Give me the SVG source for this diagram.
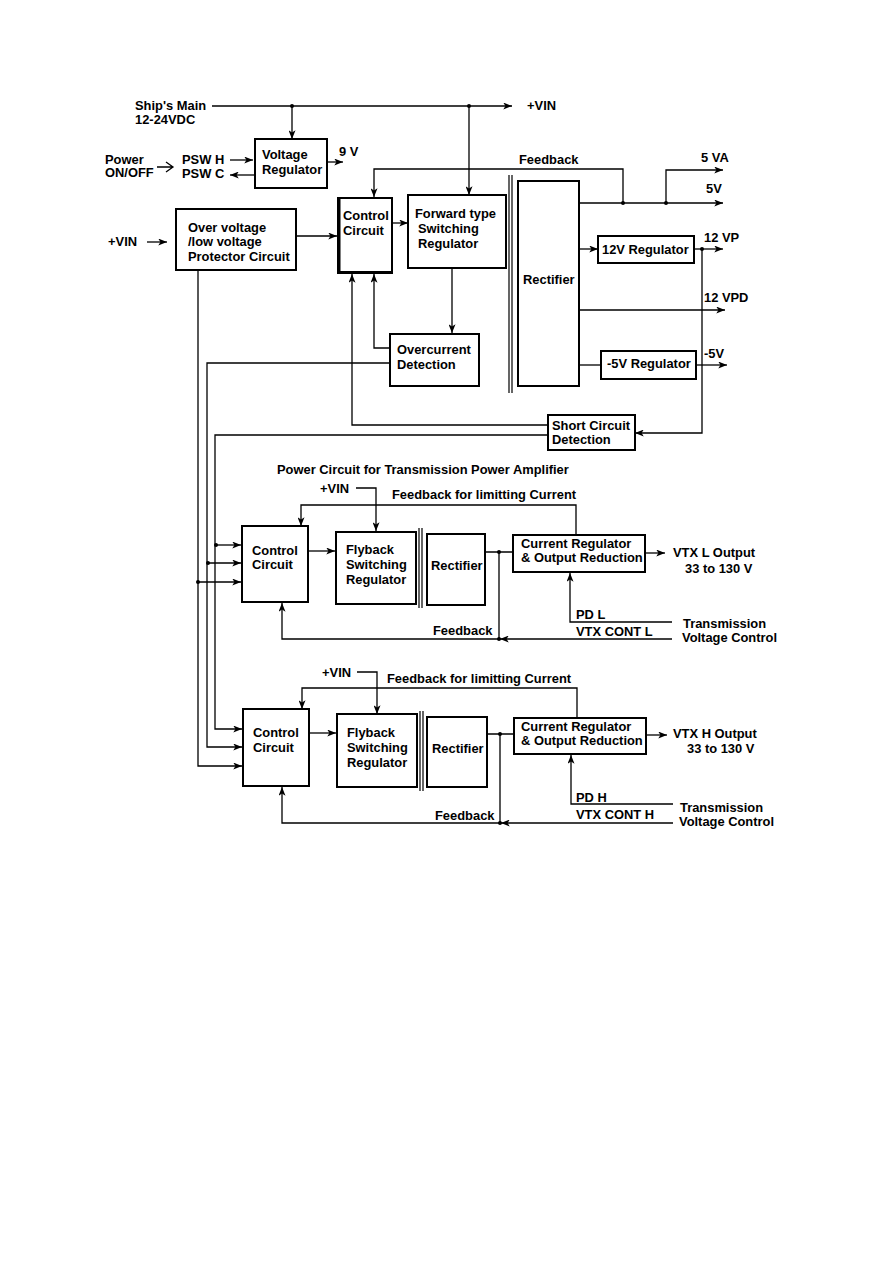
<svg xmlns="http://www.w3.org/2000/svg" width="893" height="1263" viewBox="0 0 893 1263">
<defs>
<marker id="arr" viewBox="0 0 10 8" refX="10" refY="4" markerWidth="10" markerHeight="7" markerUnits="userSpaceOnUse" orient="auto">
<path d="M0,0 L10,4 L0,8 L2.5,4 z" fill="#000"/>
</marker>
<style>
text{font-family:"Liberation Sans",Arial,Helvetica,sans-serif;font-weight:bold;font-size:12.9px;fill:#000}
.box{fill:#fff;stroke:#000;stroke-width:2}
.ln{fill:none;stroke:#000;stroke-width:1.3}
.a{marker-end:url(#arr)}
.dot{fill:#000}
.xf{fill:none;stroke:#000;stroke-width:1.2}
</style>
</defs>
<rect width="893" height="1263" fill="#fff"/>

<g id="connectors">
<path class="ln a" d="M212,106 H512"/>
<path class="ln a" d="M292,106 V139"/>
<path class="ln a" d="M469,106 V195"/>
<path class="ln a" d="M327,162 H343"/>
<path class="ln a" d="M230,160 H253"/>
<path class="ln a" d="M254,175 H230"/>
<path class="ln" d="M157,167 H173 M166,162 L173,167 L166,172"/>
<path class="ln a" d="M147,242 H167"/>
<path class="ln a" d="M296,236 H337"/>
<path class="ln a" d="M623,203 V169 H374 V197"/>
<path class="ln a" d="M579,203 H723"/>
<path class="ln a" d="M666,203 V170 H723"/>
<path class="ln a" d="M392,223 H408"/>
<path class="ln a" d="M579,249 H598"/>
<path class="ln a" d="M694,249 H723"/>
<path class="ln a" d="M702,249 V433 H635"/>
<path class="ln a" d="M579,310 H725"/>
<path class="ln" d="M579,365 H601"/>
<path class="ln a" d="M696,365 H727"/>
<path class="ln a" d="M452,268 V333"/>
<path class="ln a" d="M390,348 H374 V274"/>
<path class="ln a" d="M548,425 H352 V274"/>
<path class="ln a" d="M390,363 H207 V747 H242"/>
<path class="ln a" d="M548,435 H215 V729 H242"/>
<path class="ln a" d="M198,270 V766 H242"/>
<path class="ln a" d="M216,545 H241"/>
<path class="ln a" d="M208,563 H241"/>
<path class="ln a" d="M198,582 H241"/>
<!-- L section -->
<path class="ln a" d="M356,488 H376 V531"/>
<path class="ln a" d="M576,535 V505 H301 V526"/>
<path class="ln a" d="M308,551 H335"/>
<path class="ln" d="M485,552 H513 M499,552 V639"/>
<path class="ln a" d="M644,553 H665"/>
<path class="ln a" d="M672,622 H570 V573"/>
<path class="ln a" d="M672,639 H500"/>
<path class="ln a" d="M499,639 H282 V603"/>
<!-- H section -->
<path class="ln a" d="M357,672 H377 V714"/>
<path class="ln a" d="M577,718 V688 H302 V709"/>
<path class="ln a" d="M309,733 H336"/>
<path class="ln" d="M487,734 H514 M500,734 V823"/>
<path class="ln a" d="M646,735 H667"/>
<path class="ln a" d="M673,804 H571 V755"/>
<path class="ln a" d="M673,823 H501"/>
<path class="ln a" d="M500,823 H282 V787"/>
<!-- transformer double lines -->
<path class="xf" d="M509,175 V393 M512,175 V393"/>
<path class="xf" d="M419,528 V608 M422,528 V608"/>
<path class="xf" d="M420,711 V791 M423,711 V791"/>
<!-- junction dots -->
<circle class="dot" cx="292" cy="106" r="2"/>
<circle class="dot" cx="469" cy="106" r="2"/>
<circle class="dot" cx="623" cy="203" r="2"/>
<circle class="dot" cx="666" cy="203" r="2"/>
<circle class="dot" cx="702" cy="249" r="2"/>
<circle class="dot" cx="216" cy="545" r="2"/>
<circle class="dot" cx="208" cy="563" r="2"/>
<circle class="dot" cx="198" cy="582" r="2"/>
<circle class="dot" cx="499" cy="552" r="2"/>
<circle class="dot" cx="499" cy="639" r="2"/>
<circle class="dot" cx="500" cy="734" r="2"/>
<circle class="dot" cx="500" cy="823" r="2"/>
</g>

<g id="labels">
<text x="135" y="110">Ship's Main</text>
<text x="135" y="124">12-24VDC</text>
<text x="527" y="110">+VIN</text>
<text x="105" y="164">Power</text>
<text x="105" y="177">ON/OFF</text>
<text x="182" y="164">PSW H</text>
<text x="182" y="178">PSW C</text>
<text x="339" y="156">9 V</text>
<text x="108" y="246">+VIN</text>
<text x="519" y="164">Feedback</text>
<text x="701" y="162">5 VA</text>
<text x="706" y="193">5V</text>
<text x="704" y="242">12 VP</text>
<text x="704" y="302">12 VPD</text>
<text x="704" y="358">-5V</text>
<text x="277" y="474">Power Circuit for Transmission Power Amplifier</text>
<text x="320" y="493">+VIN</text>
<text x="392" y="499">Feedback for limitting Current</text>
<text x="673" y="557">VTX L Output</text>
<text x="685" y="573">33 to 130 V</text>
<text x="576" y="619">PD L</text>
<text x="576" y="636">VTX CONT L</text>
<text x="433" y="635">Feedback</text>
<text x="683" y="628">Transmission</text>
<text x="682" y="642">Voltage Control</text>
<text x="322" y="677">+VIN</text>
<text x="387" y="683">Feedback for limitting Current</text>
<text x="673" y="738">VTX H Output</text>
<text x="687" y="753">33 to 130 V</text>
<text x="576" y="802">PD H</text>
<text x="576" y="819">VTX CONT H</text>
<text x="435" y="820">Feedback</text>
<text x="680" y="812">Transmission</text>
<text x="679" y="826">Voltage Control</text>
</g>

<g id="voltage-regulator">
<rect class="box" x="255" y="139" width="72" height="49"/>
<text x="262" y="159">Voltage</text>
<text x="262" y="174">Regulator</text>
</g>
<g id="protector">
<rect class="box" x="176" y="209" width="120" height="61"/>
<text x="188" y="232">Over voltage</text>
<text x="188" y="246">/low voltage</text>
<text x="188" y="261">Protector Circuit</text>
</g>
<g id="control-main">
<rect class="box" x="338" y="198" width="54" height="75"/>
<path class="ln" d="M339.5,198 V273 M338,272 H392" style="stroke-width:2"/>
<text x="343" y="220">Control</text>
<text x="343" y="235">Circuit</text>
</g>
<g id="forward-regulator">
<rect class="box" x="408" y="195" width="98" height="73"/>
<text x="415" y="218">Forward type</text>
<text x="418" y="233">Switching</text>
<text x="418" y="248">Regulator</text>
</g>
<g id="rectifier-main">
<rect class="box" x="518" y="181" width="61" height="205"/>
<text x="523" y="284">Rectifier</text>
</g>
<g id="reg-12v">
<rect class="box" x="598" y="236" width="96" height="27"/>
<text x="602" y="254">12V Regulator</text>
</g>
<g id="reg-minus5v">
<rect class="box" x="601" y="351" width="95" height="28"/>
<text x="607" y="368">-5V Regulator</text>
</g>
<g id="overcurrent">
<rect class="box" x="390" y="334" width="89" height="52"/>
<text x="397" y="354">Overcurrent</text>
<text x="397" y="369">Detection</text>
</g>
<g id="short-circuit">
<rect class="box" x="548" y="415" width="87" height="35"/>
<text x="552" y="430">Short Circuit</text>
<text x="552" y="444">Detection</text>
</g>

<g id="control-l">
<rect class="box" x="242" y="526" width="66" height="76"/>
<text x="252" y="555">Control</text>
<text x="252" y="569">Circuit</text>
</g>
<g id="flyback-l">
<rect class="box" x="336" y="532" width="80" height="72"/>
<text x="346" y="554">Flyback</text>
<text x="346" y="569">Switching</text>
<text x="346" y="584">Regulator</text>
</g>
<g id="rectifier-l">
<rect class="box" x="427" y="534" width="58" height="71"/>
<text x="431" y="570">Rectifier</text>
</g>
<g id="current-reg-l">
<rect class="box" x="513" y="535" width="132" height="37"/>
<text x="521" y="548">Current Regulator</text>
<text x="521" y="562">&amp; Output Reduction</text>
</g>

<g id="control-h">
<rect class="box" x="243" y="709" width="66" height="77"/>
<text x="253" y="737">Control</text>
<text x="253" y="752">Circuit</text>
</g>
<g id="flyback-h">
<rect class="box" x="337" y="714" width="80" height="73"/>
<text x="347" y="737">Flyback</text>
<text x="347" y="752">Switching</text>
<text x="347" y="767">Regulator</text>
</g>
<g id="rectifier-h">
<rect class="box" x="427" y="717" width="60" height="70"/>
<text x="432" y="753">Rectifier</text>
</g>
<g id="current-reg-h">
<rect class="box" x="514" y="718" width="132" height="36"/>
<text x="521" y="731">Current Regulator</text>
<text x="521" y="745">&amp; Output Reduction</text>
</g>
</svg>
